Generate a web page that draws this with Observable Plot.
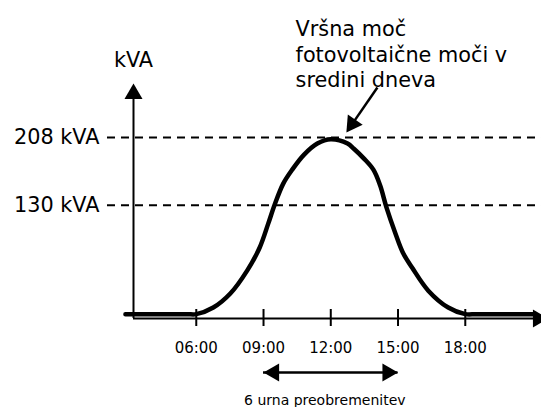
<!DOCTYPE html>
<html>
<head>
<meta charset="utf-8">
<script src="https://cdn.jsdelivr.net/npm/d3@7"></script>
<script src="https://cdn.jsdelivr.net/npm/@observablehq/plot@0.6"></script>
<style>
html, body { margin: 0; padding: 0; background: #fff; }
#chart svg { display: block; }
</style>
</head>
<body>
<div id="chart"></div>
<script>
// --- data ---
const hours = [2.84, 4.5, 5.6, 6.0, 6.76, 7.52, 8.27, 8.83, 9.21, 9.5, 9.88, 10.28, 10.8, 11.4, 12.0, 12.75, 13.03, 13.47, 13.9, 14.2, 14.48, 14.88, 15.23, 15.64, 16.35, 17.24, 18.0, 18.5, 20.0, 21.1];
const power = [5, 5, 5, 5, 12.6, 28.7, 55, 81.6, 109, 131, 155, 171, 188, 201, 206, 201, 195, 184, 171, 153, 128, 98, 75, 58, 32, 12.6, 5, 5, 5, 5];
const tickHours = [6, 9, 12, 15, 18];
const tickLabels = ["06:00", "09:00", "12:00", "15:00", "18:00"];
const levels = [208, 130];
const levelLabels = ["208 kVA", "130 kVA"];
const yLabel = "kVA";
const noteLines = ["Vršna moč", "fotovoltaične moči v", "sredini dneva"];
const overload = [9, 15];
const overloadText = "6 urna preobremenitev";

// --- chart ---
const xDomain = [3.2, 21.4];
const yDomain = [0, 270];
const curveData = hours.map((h, i) => ({h, v: power[i]}));
const ink = "#000";
const head = {symbol: "triangle", r: 6.7, fill: ink, stroke: "none"};
const big = 20.8;

const plot = Plot.plot({
  width: 541,
  height: 407,
  marginLeft: 133,
  marginRight: 0,
  marginTop: 83,
  marginBottom: 89,
  x: {domain: xDomain, axis: null},
  y: {domain: yDomain, axis: null},
  style: {fontFamily: "'DejaVu Sans', Verdana, sans-serif", background: "#fff", color: ink, overflow: "visible"},
  marks: [
    // dashed reference levels
    Plot.ruleY(levels, {y: d => d, x1: 2.04, x2: xDomain[1], stroke: ink, strokeWidth: 2, strokeDasharray: "8,6"}),
    Plot.text(levels, {x: xDomain[0], y: d => d, text: (d, i) => levelLabels[i], textAnchor: "end", dx: -34, fontSize: big, fill: ink}),
    // x axis with arrow
    Plot.ruleY([0], {y: d => d, x1: xDomain[0], x2: 21.1, stroke: ink, strokeWidth: 2}),
    Plot.dot([0], {x: 21.25, y: 0, rotate: 90, ...head}),
    // y axis with arrow
    Plot.ruleX([xDomain[0]], {x: d => d, y1: 0, y2: 258, stroke: ink, strokeWidth: 2}),
    Plot.dot([0], {x: xDomain[0], y: yDomain[1], dy: 10.4, ...head}),
    Plot.text([yLabel], {x: xDomain[0], y: yDomain[1], dy: -23, text: d => d, fontSize: big, fill: ink}),
    // ticks and labels
    Plot.ruleX(tickHours, {x: d => d, y1: 0, y2: 0, insetTop: -9, insetBottom: -8, stroke: ink, strokeWidth: 2}),
    Plot.text(tickHours, {x: d => d, y: 0, dy: 29.5, text: (d, i) => tickLabels[i], fontSize: 15, fill: ink}),
    // PV power curve
    Plot.line(curveData, {x: "h", y: "v", curve: "catmull-rom", stroke: ink, strokeWidth: 4.5, strokeLinejoin: "round"}),
    // annotation arrow and text
    Plot.link([0], {x1: 14.08, y1: 265.4, x2: 12.96, y2: 223.6, stroke: ink, strokeWidth: 2.5}),
    Plot.dot([0], {x: 12.96, y: 223.6, rotate: 214.6, ...head}),
    Plot.text([noteLines.join("\n")], {x: 10.43, y: yDomain[1], dy: -65.5, text: d => d, textAnchor: "start", lineAnchor: "top", lineHeight: 1.23, fontSize: big, fill: ink}),
    // overload double arrow
    Plot.ruleY([0], {y: d => d, x1: overload[0], x2: overload[1], dy: 54, stroke: ink, strokeWidth: 2.5}),
    Plot.dot([overload[0]], {x: d => d, y: 0, dy: 54, dx: 10.4, rotate: -90, ...head}),
    Plot.dot([overload[1]], {x: d => d, y: 0, dy: 54, dx: -10.4, rotate: 90, ...head}),
    Plot.text([overloadText], {x: (overload[0] + overload[1]) / 2, y: 0, dy: 82, dx: -6, text: d => d, fontSize: 14, fill: ink})
  ]
});
document.getElementById("chart").appendChild(plot);
</script>
</body>
</html>
